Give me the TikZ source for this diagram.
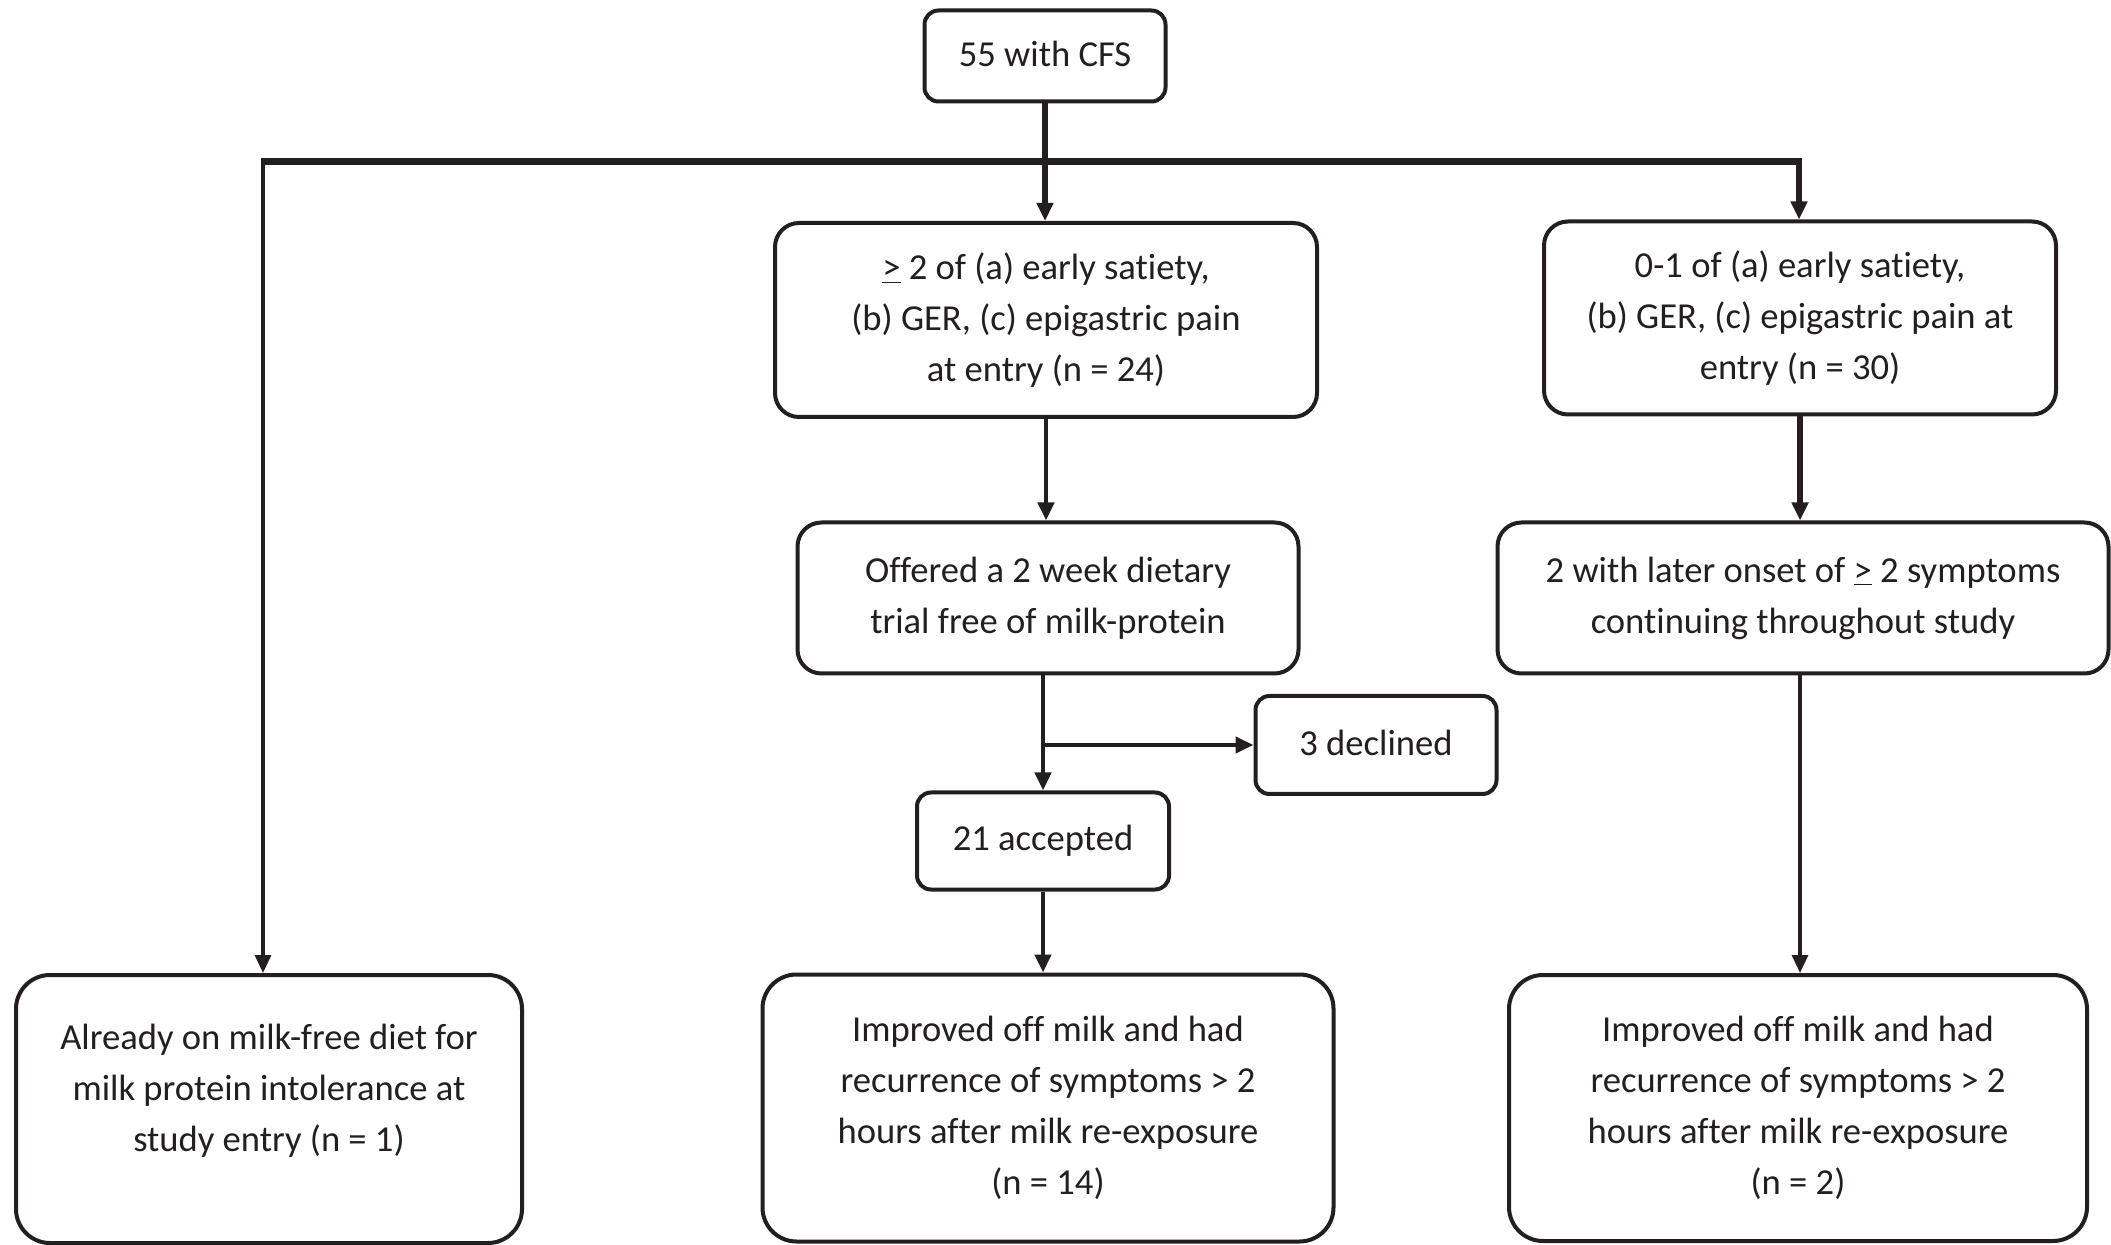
\documentclass[tikz,border=0pt]{standalone}
\usepackage{fontspec}
\setmainfont{Carlito}[Ligatures=NoCommon]
\usetikzlibrary{arrows.meta}
\definecolor{ink}{HTML}{231F20}
\begin{document}
\begin{tikzpicture}[x=0.5pt,y=-0.5pt,
  txt/.style={align=center, inner sep=0pt, text=ink, font=\fontsize{18.3}{25.5}\selectfont},
  box/.style={txt, draw=ink, line width=2pt, rounded corners=#1},
  box/.default=12pt,
  arr/.style={-{Triangle[length=9pt,width=8pt]}, draw=ink, line width=#1},
  arr/.default=2pt
]
\useasboundingbox (0,0) rectangle (2111,1245);

\node[box=7pt, minimum width=120.5pt, minimum height=45.5pt] (A) at (1045,56) {\raisebox{2pt}{55 with CFS}};
\node[box, minimum width=271pt, minimum height=97pt] (B) at (1046,320)
  {\underline{>} 2 of (a) early satiety,\\ (b) GER, (c) epigastric pain\\ at entry (n = 24)};
\node[box, minimum width=256pt, minimum height=96.5pt] (C) at (1800,318)
  {0-1 of (a) early satiety,\\ (b) GER, (c) epigastric pain at\\ entry (n = 30)};
\node[box, minimum width=250.5pt, minimum height=75.5pt] (D) at (1048,598)
  {Offered a 2 week dietary\\ trial free of milk-protein};
\node[box, minimum width=305.5pt, minimum height=75.5pt] (E) at (1803,598)
  {2 with later onset of \underline{>} 2 symptoms\\ continuing throughout study};
\node[box=7pt, minimum width=120.5pt, minimum height=49pt] (F) at (1376,745) {\raisebox{2pt}{3 declined}};
\node[box=7pt, minimum width=126pt, minimum height=48.5pt] (G) at (1043,841) {\raisebox{2pt}{21 accepted}};
\node[box=17pt, minimum width=253pt, minimum height=134pt] (H) at (269,1109) {};
\node[txt] (Ht) at (269,1091) {Already on milk-free diet for\\ milk protein intolerance at\\ study entry (n = 1)};
\node[box=17pt, minimum width=285.5pt, minimum height=133.5pt] (I) at (1048,1108)
  {Improved off milk and had\\ recurrence of symptoms > 2\\ hours after milk re-exposure\\ (n = 14)};
\node[box=17pt, minimum width=289pt, minimum height=133pt] (J) at (1798,1108)
  {Improved off milk and had\\ recurrence of symptoms > 2\\ hours after milk re-exposure\\ (n = 2)};

\coordinate (jl) at (263,162);
\coordinate (jr) at (1799,162);
\draw[ink, line width=3.5pt] ([xshift=-1pt]jl) -- ([xshift=1.5pt]jr);
\draw[arr=3pt] (A.south) -- (A.south |- B.north);
\draw[arr=1.6pt] (jl) -- (jl |- H.north);
\draw[arr=3pt] (jr) -- (jr |- C.north);
\draw[arr=2.2pt] (B.south) -- (B.south |- D.north);
\draw[arr=2.2pt] (D.south -| G.north) -- (G.north);
\draw[arr=2.2pt] (G.north |- F.west) -- (F.west);
\draw[arr=2.2pt] (G.south) -- (G.south |- I.north);
\draw[arr=3pt] (C.south) -- (C.south |- E.north);
\draw[arr=1.6pt] (C.south |- E.south) -- (C.south |- J.north);
\end{tikzpicture}
\end{document}
